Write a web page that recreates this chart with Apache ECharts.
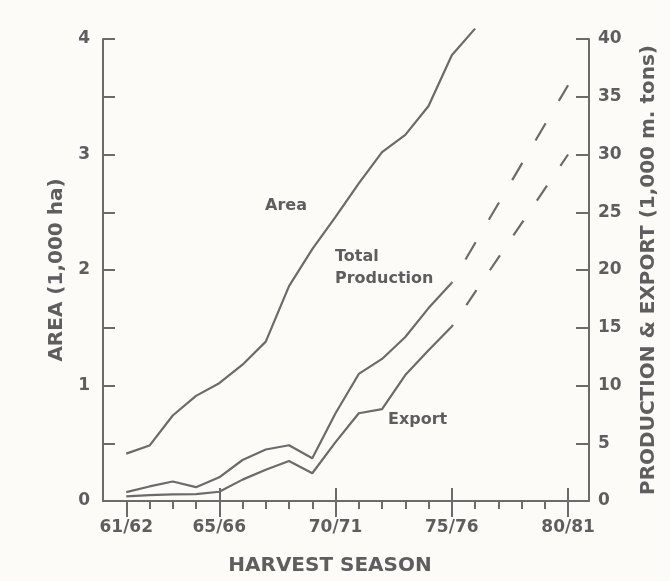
<!DOCTYPE html>
<html>
<head>
<meta charset="utf-8">
<title>Area, production and export by harvest season</title>
<script src="https://cdn.jsdelivr.net/npm/echarts@6/dist/echarts.min.js"></script>
<style>
html, body { margin: 0; padding: 0; background: #fcfbf8; }
#chart { width: 670px; height: 581px; }
</style>
</head>
<body>
<div id="chart"></div>
<script>
// harvest seasons, 61/62 is x = 0
var seasons = ['61/62', '62/63', '63/64', '64/65', '65/66', '66/67', '67/68', '68/69', '69/70', '70/71',
    '71/72', '72/73', '73/74', '74/75', '75/76', '76/77', '77/78', '78/79', '79/80', '80/81'];
var seasonLabels = [0, 4, 9, 14, 19];
var majorTicksUp = [4, 9, 14, 19];

// area, 1,000 ha (left axis)
var area = [0.41, 0.48, 0.74, 0.91, 1.02, 1.18, 1.38, 1.86, 2.18, 2.46, 2.75, 3.02, 3.17, 3.42, 3.86, 4.09];
// 1,000 m. tons (right axis)
var production = [0.77, 1.26, 1.69, 1.2, 2.05, 3.55, 4.46, 4.83, 3.7, 7.6, 11.0, 12.3, 14.2, 16.7, 18.9];
var exportTons = [0.4, 0.51, 0.57, 0.6, 0.8, 1.85, 2.7, 3.46, 2.4, 5.1, 7.6, 7.95, 10.9, 13.05, 15.1];
// dashed projection to 80/81
var projSeasons = [14, 19];
var productionProj = [18.9, 36];
var exportProj = [15.1, 30];

var areaTicks = [0, 1, 2, 3, 4];

var ink = '#6b6b6b';
var txt = '#5e5e5e';
var font = 'DejaVu Sans';

function pairs(xs, ys) {
    var out = [];
    for (var i = 0; i < ys.length; i++) {
        out.push([xs ? xs[i] : i, ys[i]]);
    }
    return out;
}

function lineSeries(data, yIdx, style) {
    return {
        type: 'line',
        xAxisIndex: 0,
        yAxisIndex: yIdx,
        data: data,
        symbol: 'none',
        clip: false,
        silent: true,
        lineStyle: Object.assign({ color: ink, width: 2.2 }, style || {})
    };
}

function hiddenX(ticks, inside, len) {
    return {
        type: 'value', min: -1, max: 19.9, interval: 1, position: 'bottom',
        axisLine: { show: false },
        axisTick: { show: true, customValues: ticks, inside: inside, length: len,
            lineStyle: { color: ink, width: 2 } },
        axisLabel: { show: false },
        splitLine: { show: false }
    };
}

var myChart = echarts.init(document.getElementById('chart'));
myChart.setOption({
    animation: false,
    backgroundColor: '#fcfbf8',
    textStyle: { fontFamily: font },
    grid: { left: 103, right: 81, top: 39, bottom: 78 },
    xAxis: [
        {
            type: 'value', min: -1, max: 19.9, interval: 1, position: 'bottom',
            axisLine: { show: true, onZero: false, lineStyle: { color: ink, width: 2 } },
            axisTick: { show: true, customValues: seasons.map(function (s, i) { return i; }),
                length: 8, lineStyle: { color: ink, width: 2 } },
            axisLabel: {
                customValues: seasonLabels,
                formatter: function (v) { return seasons[v]; },
                color: txt, fontSize: 17, fontWeight: 'bold', margin: 18
            },
            splitLine: { show: false },
            name: 'HARVEST SEASON',
            nameLocation: 'middle',
            nameGap: 55,
            nameTextStyle: { color: txt, fontSize: 20, fontWeight: 'bold', padding: [0, 32, 0, 0] }
        },
        hiddenX(majorTicksUp, true, 13),
        hiddenX(seasonLabels, false, 16)
    ],
    yAxis: [
        {
            type: 'value', min: 0, max: 4, interval: 0.5, position: 'left',
            axisLine: { show: true, onZero: false, lineStyle: { color: ink, width: 2 } },
            axisTick: { show: true, inside: true, length: 12, lineStyle: { color: ink, width: 2 } },
            axisLabel: { customValues: areaTicks, color: txt, fontSize: 17, fontWeight: 'bold', margin: 13 },
            splitLine: { show: false },
            name: 'AREA (1,000 ha)',
            nameLocation: 'middle',
            nameRotate: 90,
            nameGap: 36,
            nameTextStyle: { color: txt, fontSize: 20, fontWeight: 'bold' }
        },
        {
            type: 'value', min: 0, max: 40, interval: 5, position: 'right',
            axisLine: { show: true, onZero: false, lineStyle: { color: ink, width: 2 } },
            axisTick: { show: true, inside: true, length: 13, lineStyle: { color: ink, width: 2 } },
            axisLabel: { color: txt, fontSize: 17, fontWeight: 'bold', margin: 9 },
            splitLine: { show: false },
            name: 'PRODUCTION & EXPORT (1,000 m. tons)',
            nameLocation: 'middle',
            nameRotate: 90,
            nameGap: 50,
            nameTextStyle: { color: txt, fontSize: 20, fontWeight: 'bold' }
        }
    ],
    graphic: [
        { type: 'text', left: 265, top: 198, style: { text: 'Area', fill: txt, font: 'bold 16px "DejaVu Sans"' } },
        { type: 'text', left: 335, top: 249, style: { text: 'Total', fill: txt, font: 'bold 16px "DejaVu Sans"' } },
        { type: 'text', left: 335, top: 271, style: { text: 'Production', fill: txt, font: 'bold 16px "DejaVu Sans"' } },
        { type: 'text', left: 388, top: 412, style: { text: 'Export', fill: txt, font: 'bold 16px "DejaVu Sans"' } }
    ],
    series: [
        lineSeries(pairs(null, area), 0),
        lineSeries(pairs(null, production), 1),
        lineSeries(pairs(null, exportTons), 1),
        lineSeries(pairs(projSeasons, productionProj), 1, { type: [20, 26], dashOffset: 19 }),
        lineSeries(pairs(projSeasons, exportProj), 1, { type: [18, 24], dashOffset: 16 })
    ]
});
</script>
</body>
</html>
